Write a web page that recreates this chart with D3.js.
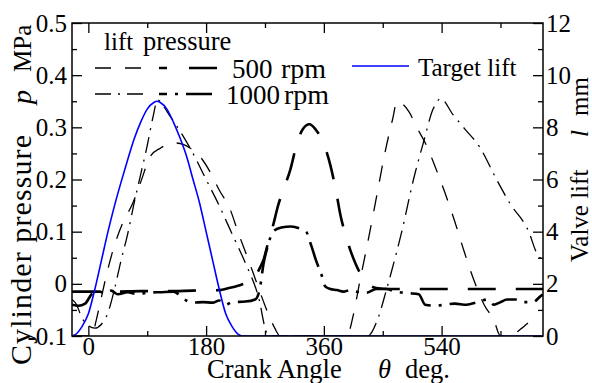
<!DOCTYPE html>
<html>
<head>
<meta charset="utf-8">
<title>Cylinder pressure and valve lift</title>
<script src="https://d3js.org/d3.v7.min.js"></script>
<style>
    body { margin: 0; background: #fff; }
    text { font-family: "Liberation Serif", "Times New Roman", serif; fill: #000; }
</style>
</head>
<body>
<div id="drawArea"></div>
<script>
    // crank angle (deg) and value pairs

    // target lift, mm (blue)
    var targetAngle = [-25, -20, -10, 0, 10, 20, 30, 40, 50, 60, 70, 80, 90, 100, 105, 110, 120, 130, 140, 150, 160, 170, 180, 190, 200, 210, 220, 230, 237, 695];
    var targetLift  = [0, 0.05, 0.35, 0.85, 1.8, 2.9, 4.0, 5.0, 5.9, 6.75, 7.55, 8.2, 8.7, 8.95, 9.0, 8.95, 8.7, 8.2, 7.6, 6.9, 6.0, 5.1, 4.0, 2.9, 1.8, 0.85, 0.35, 0.05, 0, 0];

    // valve lift 500 rpm, mm (thin dashed)
    var lift500Angle = [-25, 5, 12, 19, 27, 39, 52, 68, 80, 95, 110, 121, 133, 145, 156, 170, 187, 200, 216, 230, 245, 260, 275, 285, 293, 395, 405, 415, 428, 441, 454, 465, 472, 480, 490, 502, 517, 530, 545, 560, 575, 590, 605, 620, 630, 645, 660, 672];
    var lift500     = [0, 0, 0.6, 1.38, 2.27, 3.4, 4.3, 5.1, 5.9, 6.9, 7.2, 7.35, 7.4, 7.35, 7.2, 6.9, 6.25, 5.6, 4.9, 3.9, 2.9, 1.85, 0.85, 0.3, 0, 0, 0.8, 2.1, 3.7, 5.4, 7.1, 8.3, 9.0, 8.9, 8.6, 8.0, 7.3, 6.5, 5.5, 4.4, 3.2, 2.1, 1.2, 0.6, 0, 0, 0.25, 0.5];

    // valve lift 1000 rpm, mm (thin dash-dot)
    var lift1000Angle = [-25, -18, -10, 0, 10, 20, 30, 40, 50, 60, 70, 80, 90, 98, 106, 115, 123, 139, 160, 180, 200, 220, 240, 260, 273, 278, 427, 443, 456, 469, 480, 497, 512, 527, 539, 557, 575, 598, 624, 644, 674, 685, 695];
    var lift1000      = [1.4, 1.2, 0.7, 0.4, 0.3, 0.45, 0.9, 1.8, 2.9, 3.9, 5.1, 6.2, 7.3, 8.3, 9.05, 8.8, 8.5, 7.9, 7.0, 6.0, 5.0, 3.9, 2.8, 1.5, 0.1, 0, 0, 0.7, 1.8, 3.0, 4.1, 6.0, 7.4, 8.7, 9.1, 8.5, 7.95, 7.25, 6.0, 5.1, 3.95, 3.2, 2.9];

    // cylinder pressure 500 rpm, MPa (heavy long dash)
    var press500Angle = [-25, 0, 40, 80, 120, 160, 200, 215, 230, 245, 255, 262, 268, 275, 283, 290, 298, 309, 319, 328, 338, 348, 359, 370, 379, 385, 395, 408, 418, 428, 440, 460, 520, 600, 695];
    var press500      = [-0.015, -0.015, -0.015, -0.014, -0.014, -0.013, -0.012, -0.008, -0.003, 0.004, 0.014, 0.03, 0.047, 0.08, 0.115, 0.15, 0.18, 0.22, 0.27, 0.297, 0.306, 0.295, 0.271, 0.227, 0.175, 0.134, 0.086, 0.04, 0.015, 0.0, -0.008, -0.01, -0.01, -0.01, -0.01];

    // cylinder pressure 1000 rpm, MPa (heavy dash-dot)
    var press1000Angle = [-25, -15, -5, 5, 15, 25, 35, 45, 60, 75, 90, 110, 130, 140, 150, 160, 175, 190, 200, 210, 220, 240, 255, 262, 268, 275, 282, 295, 310, 325, 333, 339, 348, 357, 362, 370, 380, 390, 400, 410, 425, 440, 455, 470, 490, 505, 515, 530, 545, 560, 578, 595, 610, 620, 630, 640, 655, 665, 680, 690, 695];
    var press1000      = [-0.04, -0.042, -0.038, -0.02, -0.014, -0.018, -0.013, -0.02, -0.016, -0.02, -0.017, -0.016, -0.015, -0.022, -0.032, -0.036, -0.035, -0.036, -0.032, -0.04, -0.035, -0.034, -0.03, -0.01, 0.04, 0.075, 0.1, 0.108, 0.11, 0.105, 0.1, 0.08, 0.045, 0.015, -0.005, -0.01, -0.012, -0.015, -0.012, -0.015, -0.017, -0.01, -0.01, -0.015, -0.018, -0.02, -0.04, -0.042, -0.04, -0.038, -0.04, -0.035, -0.03, -0.04, -0.035, -0.03, -0.03, -0.035, -0.035, -0.025, -0.02];

    // ticks
    var xMajorTicks = [0, 180, 360, 540];
    var xMinorTicks = [90, 270, 450, 630];
    var pMajorTicks = [-0.1, 0, 0.1, 0.2, 0.3, 0.4, 0.5];
    var pMinorTicks = [-0.05, 0.05, 0.15, 0.25, 0.35, 0.45];
    var lMajorTicks = [0, 2, 4, 6, 8, 10, 12];
    var lMinorTicks = [1, 3, 5, 7, 9, 11];

    var width = 592, height = 383;
    var plotL = 72, plotR = 543, plotT = 23, plotB = 336;

    var svg = d3.select("#drawArea").append("svg")
        .attr("width", width)
        .attr("height", height);

    var x = d3.scaleLinear().domain([-25, 695]).range([plotL, plotR]);
    var yP = d3.scaleLinear().domain([-0.1, 0.5]).range([plotB, plotT]);
    var yL = d3.scaleLinear().domain([0, 12]).range([plotB, plotT]);

    svg.append("defs").append("clipPath").attr("id", "plotClip")
        .append("rect")
        .attr("x", plotL).attr("y", plotT)
        .attr("width", plotR - plotL).attr("height", plotB - plotT);

    var plot = svg.append("g").attr("clip-path", "url(#plotClip)");

    function zip(a, b) {
        return a.map(function (v, i) { return [v, b[i]]; });
    }

    var liftLine = d3.line()
        .x(function (d) { return x(d[0]); })
        .y(function (d) { return yL(d[1]); })
        .curve(d3.curveMonotoneX);
    var pressLine = d3.line()
        .x(function (d) { return x(d[0]); })
        .y(function (d) { return yP(d[1]); })
        .curve(d3.curveMonotoneX);

    // pressure curves (heavy)
    plot.append("path")
        .attr("d", pressLine(zip(press500Angle, press500)))
        .attr("fill", "none").attr("stroke", "#000")
        .attr("stroke-width", 2.6)
        .attr("stroke-dasharray", "28,20");
    plot.append("path")
        .attr("d", pressLine(zip(press1000Angle, press1000)))
        .attr("fill", "none").attr("stroke", "#000")
        .attr("stroke-width", 2.6)
        .attr("stroke-dasharray", "26,8,3,8");

    // lift curves (thin)
    plot.append("path")
        .attr("d", liftLine(zip(lift500Angle, lift500)))
        .attr("fill", "none").attr("stroke", "#000")
        .attr("stroke-width", 1.3)
        .attr("stroke-dasharray", "16,14");
    plot.append("path")
        .attr("d", liftLine(zip(lift1000Angle, lift1000)))
        .attr("fill", "none").attr("stroke", "#000")
        .attr("stroke-width", 1.3)
        .attr("stroke-dasharray", "16,7,2,7");
    plot.append("path")
        .attr("d", liftLine(zip(targetAngle, targetLift)))
        .attr("fill", "none").attr("stroke", "#0000ff")
        .attr("stroke-width", 1.6);

    // axes, ticks pointing inward
    function drawAxis(axis, tx, ty) {
        var g = svg.append("g")
            .attr("transform", "translate(" + tx + "," + ty + ")")
            .call(axis);
        g.select(".domain").remove();
        g.selectAll("line").attr("stroke", "#000").attr("stroke-width", 1.3);
        g.selectAll("text")
            .attr("font-family", "Liberation Serif")
            .attr("font-size", 25)
            .attr("fill", "#000");
        return g;
    }

    var pFormat = function (d) { return d === 0 ? "0" : d.toFixed(1); };

    drawAxis(d3.axisBottom(x).tickValues(xMajorTicks).tickSize(-10).tickPadding(1), 0, plotB);
    drawAxis(d3.axisBottom(x).tickValues(xMinorTicks).tickSize(-5).tickFormat(""), 0, plotB);
    drawAxis(d3.axisTop(x).tickValues(xMajorTicks).tickSize(-10).tickFormat(""), 0, plotT);
    drawAxis(d3.axisTop(x).tickValues(xMinorTicks).tickSize(-5).tickFormat(""), 0, plotT);

    drawAxis(d3.axisLeft(yP).tickValues(pMajorTicks).tickSize(-10).tickPadding(5).tickFormat(pFormat), plotL, 0);
    drawAxis(d3.axisLeft(yP).tickValues(pMinorTicks).tickSize(-5).tickFormat(""), plotL, 0);
    drawAxis(d3.axisRight(yL).tickValues(lMajorTicks).tickSize(-10).tickPadding(3), plotR, 0);
    drawAxis(d3.axisRight(yL).tickValues(lMinorTicks).tickSize(-5).tickFormat(""), plotR, 0);

    // frame
    svg.append("rect")
        .attr("x", plotL).attr("y", plotT)
        .attr("width", plotR - plotL).attr("height", plotB - plotT)
        .attr("fill", "none").attr("stroke", "#000").attr("stroke-width", 1.5);

    // axis titles
    svg.append("text").attr("x", 207).attr("y", 378).attr("font-size", 26.5).text("Crank Angle");
    svg.append("text").attr("x", 378).attr("y", 378).attr("font-size", 26.5)
        .attr("font-style", "italic").text("θ");
    svg.append("text").attr("x", 405).attr("y", 378).attr("font-size", 26.5).text("deg.");

    svg.append("text")
        .attr("transform", "translate(31,365) rotate(-90)")
        .attr("font-size", 30)
        .attr("textLength", 230).attr("lengthAdjust", "spacing")
        .text("Cylinder pressure");
    svg.append("text")
        .attr("transform", "translate(31,104) rotate(-90)")
        .attr("font-size", 28).attr("font-style", "italic")
        .text("p");
    svg.append("text")
        .attr("transform", "translate(31,72) rotate(-90)")
        .attr("font-size", 25)
        .text("MPa");

    svg.append("text")
        .attr("transform", "translate(588,262) rotate(-90)")
        .attr("font-size", 25)
        .text("Valve lift");
    svg.append("text")
        .attr("transform", "translate(588,137) rotate(-90)")
        .attr("font-size", 25).attr("font-style", "italic")
        .text("l");
    svg.append("text")
        .attr("transform", "translate(588,116) rotate(-90)")
        .attr("font-size", 25)
        .text("mm");

    // legend
    var legend = svg.append("g");
    legend.append("text").attr("x", 104).attr("y", 50).attr("font-size", 25).text("lift");
    legend.append("text").attr("x", 143).attr("y", 50).attr("font-size", 26.5).text("pressure");

    legend.append("line").attr("x1", 95).attr("x2", 150).attr("y1", 68).attr("y2", 68)
        .attr("stroke", "#000").attr("stroke-width", 1.3).attr("stroke-dasharray", "16,14");
    legend.append("line").attr("x1", 159).attr("x2", 219).attr("y1", 68).attr("y2", 68)
        .attr("stroke", "#000").attr("stroke-width", 2.6).attr("stroke-dasharray", "28,22")
        .attr("stroke-dashoffset", 20);
    legend.append("text").attr("x", 232).attr("y", 78).attr("font-size", 27).text("500");
    legend.append("text").attr("x", 281).attr("y", 78).attr("font-size", 28).text("rpm");

    legend.append("line").attr("x1", 95).attr("x2", 150).attr("y1", 94).attr("y2", 94)
        .attr("stroke", "#000").attr("stroke-width", 1.3).attr("stroke-dasharray", "16,7,2,7");
    legend.append("line").attr("x1", 159).attr("x2", 219).attr("y1", 94).attr("y2", 94)
        .attr("stroke", "#000").attr("stroke-width", 2.6).attr("stroke-dasharray", "26,8,3,8")
        .attr("stroke-dashoffset", 18);
    legend.append("text").attr("x", 226).attr("y", 104).attr("font-size", 27).text("1000");
    legend.append("text").attr("x", 284).attr("y", 104).attr("font-size", 28).text("rpm");

    legend.append("line").attr("x1", 352).attr("x2", 409).attr("y1", 66).attr("y2", 66)
        .attr("stroke", "#0000ff").attr("stroke-width", 1.6);
    legend.append("text").attr("x", 418).attr("y", 76).attr("font-size", 25).text("Target lift");
</script>
</body>
</html>
